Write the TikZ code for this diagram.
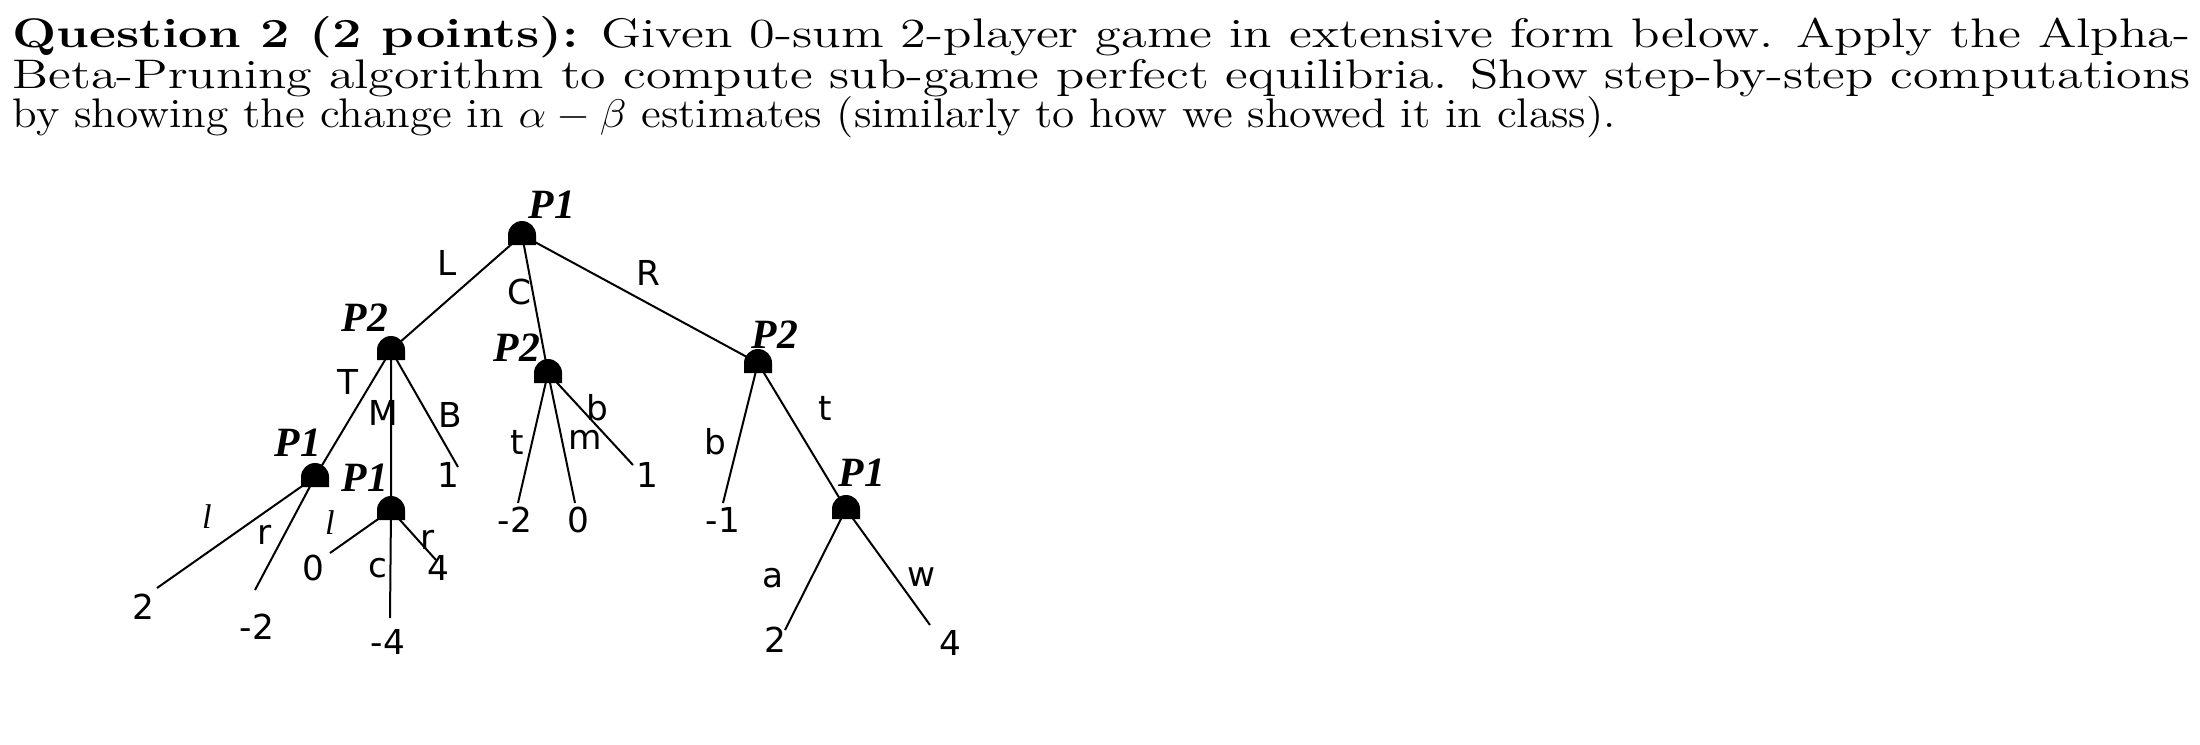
\documentclass[tikz,border=0pt]{standalone}
\usepackage{fontspec}
\usepackage{graphicx}
\newfontfamily\lab{DejaVu Sans}
\newfontfamily\pl{Liberation Serif}
\begin{document}
\begin{tikzpicture}[x=0.3pt,y=-0.3pt,
  edge/.style={line width=0.6pt},
  el/.style={font=\lab\fontsize{10.3}{11}\selectfont, inner sep=0},
  lf/.style={font=\lab\fontsize{10.3}{11}\selectfont, inner sep=0},
  pn/.style={font=\pl\bfseries\itshape\fontsize{12.5}{13}\selectfont, inner sep=0},
  tl/.style={anchor=base west, inner sep=0, font=\fontsize{12.4}{13}\selectfont}]
\useasboundingbox (0,0) rectangle (2200,744);
\newcommand\dome[3]{\coordinate (#1) at (#2,#3);
  \fill ([xshift=-4.2pt,yshift=-3pt]#1) -- ([xshift=-4.2pt]#1) arc[start angle=180,end angle=0,radius=4.2pt] -- ([xshift=4.2pt,yshift=-3pt]#1) -- cycle;}
% title
\node[tl] (t1) at (12,47) {\resizebox{653.4pt}{\height}{\textbf{Question 2 (2 points):} Given 0-sum 2-player game in extensive form below. Apply the Alpha-}};
\node[tl] (t2) at (12,88) {\resizebox{653.4pt}{\height}{Beta-Pruning algorithm to compute sub-game perfect equilibria. Show step-by-step computations}};
\node[tl] (t3) at (12,127) {\resizebox{481pt}{\height}{by showing the change in $\alpha-\beta$ estimates (similarly to how we showed it in class).}};
% leaf ends
\coordinate (e1) at (157,588); \coordinate (e2) at (255,590);
\coordinate (e3) at (330,553); \coordinate (e4) at (390,618); \coordinate (e5) at (436,560);
\coordinate (e6) at (458,467);
\coordinate (e7) at (518,503); \coordinate (e8) at (575,503); \coordinate (e9) at (633,465);
\coordinate (e10) at (723,503); \coordinate (e11) at (785,630); \coordinate (e12) at (930,625);
% inner positions
\coordinate (r) at (522,235); \coordinate (a) at (391,350); \coordinate (b) at (548,373);
\coordinate (c) at (758,363); \coordinate (d) at (315,477); \coordinate (f) at (391,510);
\coordinate (g) at (846,509);
\draw[edge] (r)--(a) (r)--(b) (r)--(c) (a)--(d) (a)--(f) (a)--(e6)
  (b)--(e7) (b)--(e8) (b)--(e9) (c)--(e10) (c)--(g)
  (d)--(e1) (d)--(e2) (f)--(e3) (f)--(e4) (f)--(e5) (g)--(e11) (g)--(e12);
\dome{r}{522}{235} \dome{a}{391}{350} \dome{b}{548}{373} \dome{c}{758}{363}
\dome{d}{315}{477} \dome{f}{391}{510} \dome{g}{846}{509}
% player labels
\node[pn] (p1) at (552,205) {P1}; \node[pn] (p2) at (365,318) {P2};
\node[pn] (p3) at (517,348) {P2}; \node[pn] (p4) at (775,335) {P2};
\node[pn] (p5) at (298,443) {P1}; \node[pn] (p6) at (365,478) {P1};
\node[pn] (p7) at (862,473) {P1};
% edge labels
\node[el] (lL) at (447,263) {L}; \node[el] (lC) at (519,292) {C}; \node[el] (lR) at (648,273) {R};
\node[el] (lT) at (348,382) {T}; \node[el] (lM) at (383,413) {M}; \node[el] (lB) at (450,415) {B};
\node[el] (lt) at (517,442) {t}; \node[el] (lm) at (585,440) {m}; \node[el] (lb) at (597,408) {b};
\node[el] (lb2) at (715,442) {b}; \node[el] (lt2) at (825,408) {t};
\node[el] (la) at (773,578) {a}; \node[el] (lw) at (922,577) {w};
\node[el] (ll) at (207,517) {\pl\itshape l}; \node[el] (lr) at (265,535) {r};
\node[el] (ll2) at (330,523) {\pl\itshape l}; \node[el] (lc) at (378,568) {c}; \node[el] (lr2) at (428,540) {r};
% leaves
\node[lf] (v1) at (143,607) {2}; \node[lf] (v2) at (257,627) {-2};
\node[lf] (v3) at (313,568) {0}; \node[lf] (v4) at (388,642) {-4}; \node[lf] (v5) at (438,568) {4};
\node[lf] (v6) at (448,475) {1};
\node[lf] (v7) at (515,520) {-2}; \node[lf] (v8) at (578,520) {0}; \node[lf] (v9) at (647,475) {1};
\node[lf] (v10) at (723,520) {-1}; \node[lf] (v11) at (775,640) {2}; \node[lf] (v12) at (950,643) {4};
\end{tikzpicture}
\end{document}
